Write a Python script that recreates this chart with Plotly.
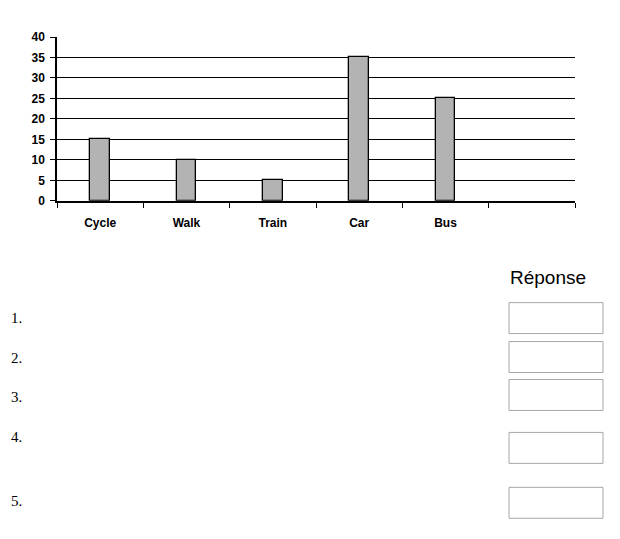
import plotly.graph_objects as go

# Chart data
categories = ["Cycle", "Walk", "Train", "Car", "Bus", " "]
counts = [15, 10, 5, 35, 25, None]
y_ticks = [0, 5, 10, 15, 20, 25, 30, 35, 40]

# Answer rows under the chart
answer_labels = ["1.", "2.", "3.", "4.", "5."]
answer_title = "Réponse"

W, H = 620, 539


def px_x(x):
    return x / W


def px_y(y):
    # the photographed page comes out slightly squashed vertically,
    # so undo that (measured: out = 0.9756 * in + 5.9)
    y = (y - 5.9) / 0.9756
    return 1 - y / H


fig = go.Figure()

fig.add_trace(go.Bar(
    x=categories,
    y=counts,
    width=0.225,
    marker=dict(color="#b3b3b3", line=dict(color="black", width=1.3)),
    showlegend=False,
    hoverinfo="x+y",
))

fig.update_layout(
    width=W,
    height=H,
    margin=dict(l=0, r=0, t=0, b=0),
    paper_bgcolor="white",
    plot_bgcolor="white",
    font=dict(family="Liberation Sans, Arial, sans-serif", color="black"),
    bargap=0,
)

fig.update_xaxes(
    domain=[px_x(57), px_x(575)],
    type="category",
    categoryorder="array",
    categoryarray=categories,
    range=[-0.5, 5.5],
    tickson="boundaries",
    ticks="outside",
    ticklen=5,
    tickwidth=1.3,
    tickcolor="black",
    showline=True,
    linecolor="black",
    linewidth=1.5,
    showgrid=False,
    tickfont=dict(size=12, weight="bold"),
    ticklabelstandoff=10,
)

fig.update_yaxes(
    domain=[px_y(200), px_y(36)],
    range=[0, 40],
    tickvals=y_ticks,
    ticks="outside",
    ticklen=5,
    tickwidth=1.3,
    tickcolor="black",
    showline=True,
    linecolor="black",
    linewidth=1.5,
    showgrid=True,
    gridcolor="black",
    gridwidth=1.2,
    zeroline=False,
    tickfont=dict(size=12, weight="bold"),
    ticklabelstandoff=3,
)

# "Réponse" heading
fig.add_annotation(
    text=answer_title, xref="paper", yref="paper",
    x=px_x(508), y=px_y(277), xanchor="left", yanchor="middle",
    showarrow=False, font=dict(size=19, family="Liberation Sans, Arial, sans-serif"),
)

# numbered rows with empty answer boxes
row_centers = [317, 357, 397, 437, 501]
box_tops = [302, 341, 379, 432, 487]
for label, yc, top in zip(answer_labels, row_centers, box_tops):
    fig.add_annotation(
        text=label, xref="paper", yref="paper",
        x=px_x(9), y=px_y(yc), xanchor="left", yanchor="middle",
        showarrow=False, font=dict(size=15, family="Liberation Serif, Times New Roman, serif"),
    )
    fig.add_shape(
        type="rect", xref="paper", yref="paper",
        x0=px_x(509), x1=px_x(603), y0=px_y(top), y1=px_y(top + 31),
        line=dict(color="#a6a6a6", width=1), fillcolor="white",
    )

# pin the figure to the window origin (no body margin / stray line box above it)
pin_js = (
    "document.body.style.margin='0';"
    "document.body.style.overflow='hidden';"
    "var d=document.getElementById('{plot_id}');"
    "d.style.position='fixed';d.style.top='0';d.style.left='0';"
)
fig.write_html("out.html", config={"displayModeBar": False}, post_script=pin_js)
